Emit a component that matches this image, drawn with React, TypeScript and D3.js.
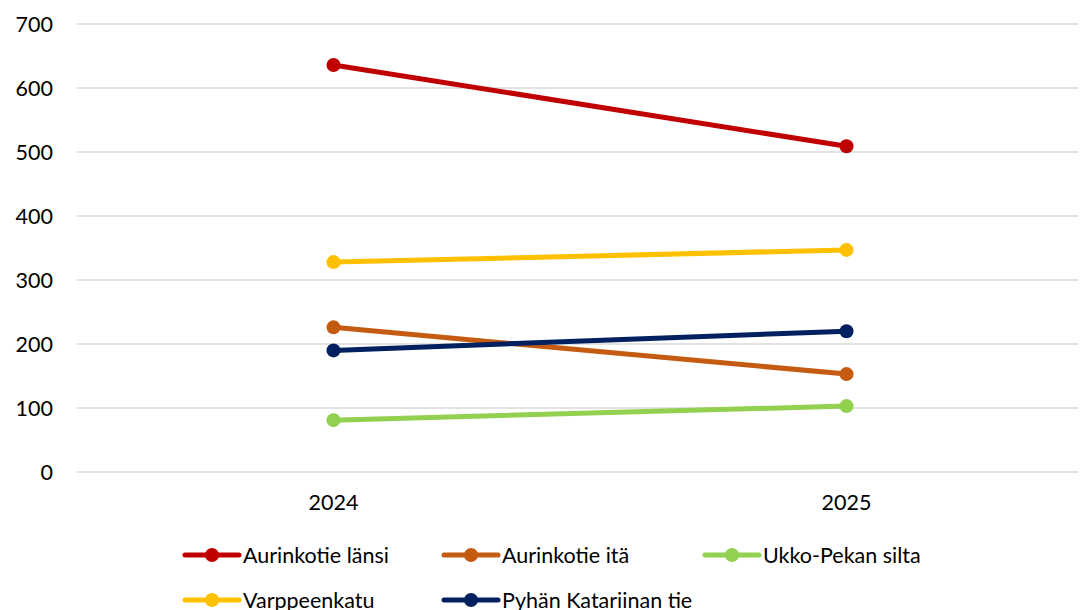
import * as d3 from "d3";
import { useEffect, useRef } from "react";

const years = ["2024", "2025"];
const seriesNames = [
  "Aurinkotie länsi",
  "Aurinkotie itä",
  "Ukko-Pekan silta",
  "Varppeenkatu",
  "Pyhän Katariinan tie",
];
const aurinkotieLansi = [636, 509];
const aurinkotieIta = [226, 153];
const ukkoPekanSilta = [81, 103];
const varppeenkatu = [328, 347];
const pyhanKatariinanTie = [190, 220];
const seriesColors = ["#c00000", "#c55a11", "#92d050", "#ffc000", "#002060"];
const yTicks = [0, 100, 200, 300, 400, 500, 600, 700];

const App = () => {
  const width = 1086;
  const height = 618;
  const svgRef = useRef<SVGSVGElement>(null);

  useEffect(() => {
    if (!svgRef.current) return;
    const svg = d3.select(svgRef.current);
    svg.selectAll("*").remove();

    const font = "Lato, 'Liberation Sans', sans-serif";
    const fontSize = 21.5;
    const values = [aurinkotieLansi, aurinkotieIta, ukkoPekanSilta, varppeenkatu, pyhanKatariinanTie];
    const series = seriesNames.map((name, i) => ({ name, color: seriesColors[i], values: values[i] }));

    const left = 77;
    const right = 1103;
    const x = d3.scaleBand(years, [left, right]);
    const y = d3.scaleLinear([0, 700], [472, 24]);
    const cx = (yr: string) => (x(yr) as number) + x.bandwidth() / 2;

    // gridlines
    svg
      .append("g")
      .selectAll("line")
      .data(yTicks)
      .join("line")
      .attr("x1", left)
      .attr("x2", width)
      .attr("y1", (d) => y(d))
      .attr("y2", (d) => y(d))
      .attr("stroke", "#d9d9d9")
      .attr("stroke-width", 1.5);

    svg
      .append("g")
      .selectAll("text")
      .data(yTicks)
      .join("text")
      .attr("x", 53)
      .attr("y", (d) => y(d) + 8)
      .attr("text-anchor", "end")
      .attr("font-family", font)
      .attr("font-size", fontSize)
      .attr("fill", "#000")
      .text((d) => d);

    svg
      .append("g")
      .selectAll("text")
      .data(years)
      .join("text")
      .attr("x", (d) => cx(d))
      .attr("y", 510)
      .attr("text-anchor", "middle")
      .attr("font-family", font)
      .attr("font-size", fontSize)
      .attr("fill", "#000")
      .text((d) => d);

    const line = d3
      .line<number>()
      .x((_, i) => cx(years[i]))
      .y((d) => y(d));

    series.forEach((s) => {
      const g = svg.append("g");
      g.append("path")
        .attr("d", line(s.values))
        .attr("fill", "none")
        .attr("stroke", s.color)
        .attr("stroke-width", 5)
        .attr("stroke-linecap", "round");
      g.selectAll("circle")
        .data(s.values)
        .join("circle")
        .attr("cx", (_, i) => cx(years[i]))
        .attr("cy", (d) => y(d))
        .attr("r", 7)
        .attr("fill", s.color);
    });

    // legend, three per row
    const legendX = [183, 442, 703];
    const legend = svg.append("g");
    series.forEach((s, i) => {
      const lx = legendX[i % 3];
      const ly = 555 + Math.floor(i / 3) * 45;
      const item = legend.append("g").attr("transform", `translate(${lx},${ly})`);
      item
        .append("line")
        .attr("x1", 2)
        .attr("x2", 56)
        .attr("y1", 0)
        .attr("y2", 0)
        .attr("stroke", s.color)
        .attr("stroke-width", 5)
        .attr("stroke-linecap", "round");
      item.append("circle").attr("cx", 29).attr("cy", 0).attr("r", 7).attr("fill", s.color);
      item
        .append("text")
        .attr("x", 60)
        .attr("y", 8)
        .attr("font-family", font)
        .attr("font-size", fontSize)
        .attr("fill", "#000")
        .text(s.name);
    });
  }, []);

  return (
    <svg
      ref={svgRef}
      width={width}
      height={height}
      style={{ display: "block", margin: "-8px", background: "#fff" }}
    />
  );
};

export default App;
